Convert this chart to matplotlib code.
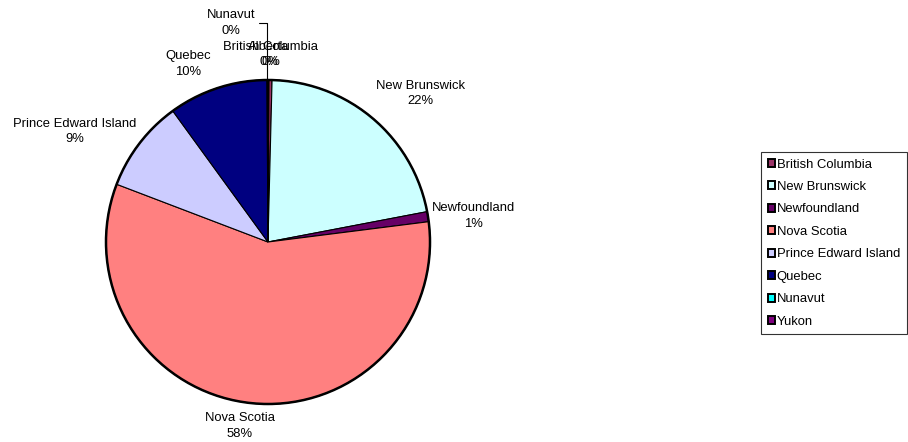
import numpy as np
import matplotlib
matplotlib.use("Agg")
import matplotlib.pyplot as plt
from matplotlib.patches import Patch, Circle

plt.rcParams["font.family"] = ["Liberation Sans", "DejaVu Sans"]

# Shares by province / territory, drawn clockwise from 12 o'clock
regions = ["Alberta", "British Columbia", "New Brunswick", "Newfoundland",
           "Nova Scotia", "Prince Edward Island", "Quebec", "Nunavut"]
values = [0.1, 0.3, 21.6, 1.0, 57.8, 9.2, 9.9, 0.1]
colors = ["#9999FF", "#993366", "#CCFFFF", "#660066",
          "#FF8080", "#CCCCFF", "#000080", "#00FFFF"]

legend_names = ["British Columbia", "New Brunswick", "Newfoundland", "Nova Scotia",
                "Prince Edward Island", "Quebec", "Nunavut", "Yukon"]
legend_colors = ["#993366", "#CCFFFF", "#660066", "#FF8080",
                 "#CCCCFF", "#000080", "#00FFFF", "#800080"]

W, H = 908, 442
cx, cy, rpx = 268, 200, 162  # pie centre (from bottom-left) and radius in pixels

fig = plt.figure(figsize=(W / 100, H / 100), dpi=100)
ax = fig.add_axes([0, 0, 1, 1])

wedges, _ = ax.pie(values, colors=colors, startangle=90, counterclock=False,
                   radius=1.0, center=(0, 0), frame=True,
                   wedgeprops=dict(edgecolor="black", linewidth=0.8))
ax.set_xlim(-cx / rpx, (W - cx) / rpx)
ax.set_ylim(-cy / rpx, (H - cy) / rpx)
ax.set_aspect("auto")
ax.axis("off")
ax.add_patch(Circle((0, 0), 1.0, fill=False, edgecolor="black", linewidth=1.8, zorder=5))

total = sum(values)
pct = [v / total * 100 for v in values]

# label placement: (distance in pie radii, clockwise angle nudge in degrees)
label_place = [(1.155, 0.0), (1.155, 0.0), (1.314, 5.3), (1.28, 1.8),
               (1.149, 1.8), (1.374, -7.6), (1.204, -6.0), None]
fs = 9.4
for w, name, p, place in zip(wedges, regions, pct, label_place):
    mid = np.deg2rad((w.theta1 + w.theta2) / 2)
    text = f"{name}\n{p:.0f}%"
    if place is None:
        # Nunavut: label pulled up-left with a leader line down to the slice
        tip = (np.cos(mid), np.sin(mid))
        ax.annotate(text, xy=tip, xytext=(-0.228, 1.352), ha="center", va="center",
                    fontsize=fs, color="black", linespacing=1.35,
                    arrowprops=dict(arrowstyle="-", color="black", lw=0.8,
                                    shrinkA=1, shrinkB=0,
                                    connectionstyle="angle,angleA=0,angleB=90,rad=0",
                                    relpos=(1.0, 0.5)))
        continue
    d, nudge = place
    ang = mid - np.deg2rad(nudge)
    x, y = d * np.cos(ang), d * np.sin(ang)
    ax.text(x, y, text, ha="center", va="center", fontsize=fs, linespacing=1.35)

handles = [Patch(facecolor=c, edgecolor="black", linewidth=1.4) for c in legend_colors]
leg = fig.legend(handles, legend_names, loc="upper left",
                 bbox_to_anchor=(761 / W, 1 - 152 / H), fontsize=fs,
                 frameon=True, fancybox=False, edgecolor="black",
                 handlelength=0.55, handleheight=0.55, handletextpad=0.15,
                 labelspacing=0.8, borderpad=0.5, borderaxespad=0)
leg.get_frame().set_linewidth(0.8)

fig.savefig("out.png", dpi=100, facecolor="white")
